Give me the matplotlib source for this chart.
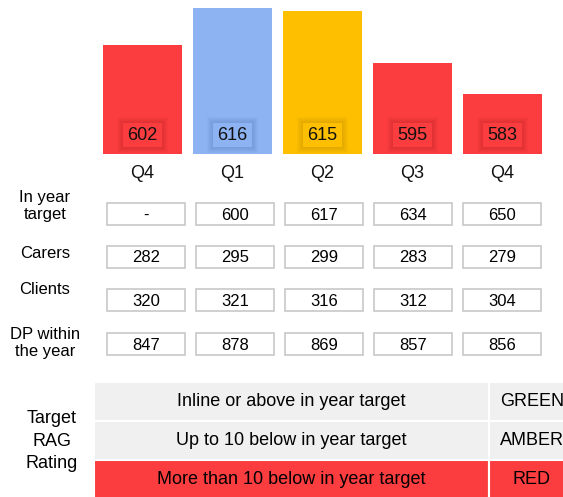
import matplotlib
matplotlib.use("Agg")
import matplotlib.pyplot as plt
import matplotlib.patches as patches
import matplotlib.transforms as mtrans

plt.rcParams['font.family'] = ['Liberation Sans', 'DejaVu Sans']

# data
quarters = ['Q4', 'Q1', 'Q2', 'Q3', 'Q4']
dp_count = [602, 616, 615, 595, 583]
rag = ['red', 'blue', 'amber', 'red', 'red']

row_labels = ['In year\ntarget', 'Carers', 'Clients', 'DP within\nthe year']
in_year_target = ['-', '600', '617', '634', '650']
carers = [282, 295, 299, 283, 279]
clients = [320, 321, 316, 312, 304]
dp_within_year = [847, 878, 869, 857, 856]

legend_text = ['Inline or above in year target', 'Up to 10 below in year target',
               'More than 10 below in year target']
legend_rag = ['GREEN', 'AMBER', 'RED']

colours = {'red': '#fc3d3f', 'blue': '#8db3f2', 'amber': '#fdbf00'}
shadow = {'red': '#a02022', 'blue': '#4a6ca8', 'amber': '#a87c00'}

W, H = 563, 497
fig = plt.figure(figsize=(W / 100, H / 100), dpi=100)

# overlay axes in pixel coords for the tables
ov = fig.add_axes([0, 0, 1, 1])
ov.set_xlim(0, W)
ov.set_ylim(H, 0)
ov.axis('off')

# bar axes
ax = fig.add_axes([97.5 / W, (H - 154) / H, 450 / W, 154 / H])
ax.set_xlim(-0.5, 4.5)
ax.set_ylim(560, 560 + 154 / 2.606)
ax.axis('off')

bcol = [colours[r] for r in rag]
ax.bar(range(len(quarters)), dp_count, width=0.88, color=bcol, bottom=0)

trans = mtrans.blended_transform_factory(ax.transData, ax.transAxes)
for i, (v, r) in enumerate(zip(dp_count, rag)):
    # soft shadow round the value label
    for k in range(6, 0, -1):
        ax.add_patch(patches.Rectangle((i - (19.5 + k) / 90, (7 - k) / 154),
                                       (39 + 2 * k) / 90, (24 + 2 * k) / 154,
                                       transform=trans, facecolor=shadow[r],
                                       alpha=0.05, edgecolor='none', clip_on=False))
    ax.add_patch(patches.Rectangle((i - 19.5 / 90, 7 / 154), 39 / 90, 24 / 154,
                                   transform=trans, facecolor=colours[r],
                                   edgecolor='none', clip_on=False))
    ax.text(i, 19 / 154, str(v), transform=trans, ha='center', va='center',
            fontsize=13, color='#111111')
    ax.text(i, -19 / 154, quarters[i], transform=trans, ha='center', va='center',
            fontsize=13, color='#111111')

# value table
row_vals = [in_year_target, carers, clients, dp_within_year]
row_top = [203, 246, 289, 333]
label_y = [206, 254, 290, 343]
for lab, vals, top, ly in zip(row_labels, row_vals, row_top, label_y):
    ov.text(45, ly, lab, ha='center', va='center', fontsize=12, linespacing=1.2)
    for i, v in enumerate(vals):
        x0 = 107 + 89 * i
        ov.add_patch(patches.Rectangle((x0, top), 78, 22, facecolor='white',
                                       edgecolor='#c8c8c8', linewidth=1.2))
        ov.text(x0 + 39, top + 12, str(v), ha='center', va='center', fontsize=12)

# RAG legend table
ov.text(52, 441, 'Target\nRAG\nRating', ha='center', va='center', fontsize=13,
        linespacing=1.4)
leg_fill = ['#f0f0f0', '#f0f0f0', colours['red']]
rows_y = [382, 421, 460, 499]
for j in range(3):
    y0, y1 = rows_y[j], rows_y[j + 1]
    ov.add_patch(patches.Rectangle((94, y0), 395, y1 - y0, facecolor=leg_fill[j],
                                   edgecolor='white', linewidth=1.5))
    ov.add_patch(patches.Rectangle((489, y0), 90, y1 - y0, facecolor=leg_fill[j],
                                   edgecolor='white', linewidth=1.5))
    ov.text(291, (y0 + y1) / 2, legend_text[j], ha='center', va='center', fontsize=13)
    ov.text(532, (y0 + y1) / 2, legend_rag[j], ha='center', va='center', fontsize=13)

fig.savefig('out.png', dpi=100)
